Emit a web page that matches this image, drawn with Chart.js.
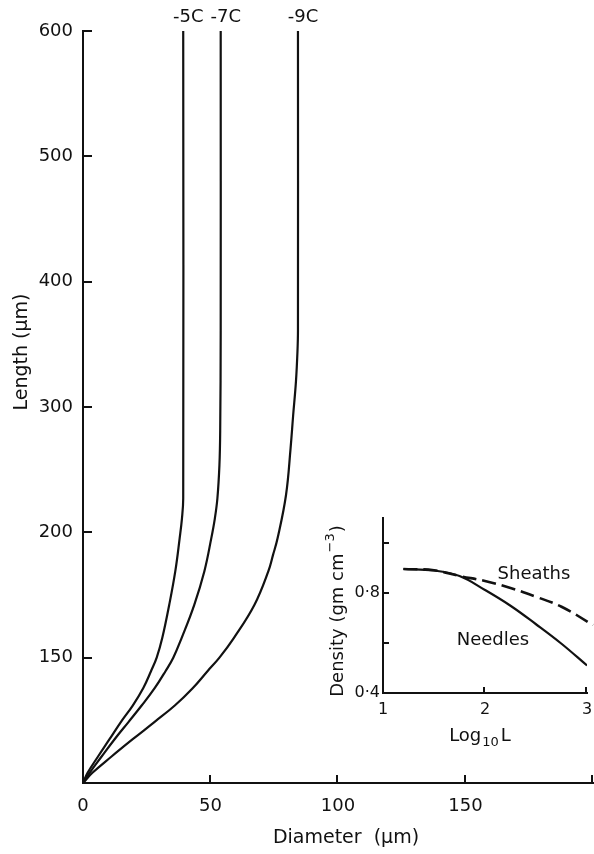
<!DOCTYPE html>
<html><head><meta charset="utf-8">
<script src="https://cdn.jsdelivr.net/npm/chart.js@4/dist/chart.umd.min.js"></script>
<style>
html,body{margin:0;padding:0;background:#fff;}
#wrap{position:relative;width:594px;height:854px;overflow:hidden;}
#main{position:absolute;left:0;top:0;}
#inset{position:absolute;left:320px;top:500px;}
</style></head><body>
<div id="wrap"><canvas id="main" width="594" height="854"></canvas><canvas id="inset" width="274" height="260"></canvas></div>
<script>
// ---- main chart data ----
const Y_TICKS = [0, 150, 200, 300, 400, 500, 600];
const Y_TICK_LABELS = ['', '150', '200', '300', '400', '500', '600'];
const X_TICKS = [0, 50, 100, 150, 200];
const X_TICK_LABELS = ['0', '50', '100', '150', ''];
const SERIES_NAMES = ['-5C', '-7C', '-9C'];

const LEN_5C  = [0, 12.2, 31.7, 52.4, 73.2, 92.7, 113.4, 134.1, 150, 157.9, 171.0, 184.5, 197.6, 211, 227, 600];
const DIAM_5C = [0, 1.8, 5.9, 10.4, 14.9, 19.5, 23.6, 26.7, 28.9, 31.1, 33.8, 36.2, 37.9, 38.8, 39.3, 39.3];

const LEN_7C  = [0, 12.2, 31.7, 52.4, 73.2, 92.7, 113.4, 134.1, 150, 157.9, 171.0, 184.5, 197.6, 211, 227, 253.6, 280.8, 360.8, 600];
const DIAM_7C = [0, 2.6, 7.3, 12.4, 17.9, 23.0, 28.1, 32.4, 35.4, 38.7, 43.6, 47.6, 50.3, 51.7, 52.7, 53.5, 53.8, 54.0, 54.0];

const LEN_9C  = [0, 12.2, 31.7, 52.4, 73.2, 92.7, 113.4, 134.1, 150, 157.9, 171.0, 184.5, 190.9, 197.6, 229.6, 267, 293, 320, 344, 361, 600];
const DIAM_9C = [0, 3.7, 11.2, 19.5, 28.1, 36.0, 43.0, 48.9, 53.5, 59.2, 67.2, 72.7, 74.5, 76.3, 79.6, 81.4, 82.4, 83.5, 84.1, 84.3, 84.3];

// ---- inset data ----
const INSET_X_TICKS = [1, 2, 3];
const INSET_X_LABELS = ['1', '2', '3'];
const INSET_Y_TICKS = [0.4, 0.6, 0.8, 1.0];
const INSET_Y_LABELS = ['0·4', '', '0·8', ''];
const NEEDLE_LOGL = [1.2, 1.5, 1.75, 2.0, 2.25, 2.5, 2.75, 3.0];
const NEEDLE_DENSITY = [0.896, 0.890, 0.868, 0.812, 0.749, 0.675, 0.597, 0.51];
const SHEATH_LOGL = [1.2, 1.5, 1.75, 2.0, 2.25, 2.5, 2.75, 3.06];
const SHEATH_DENSITY = [0.896, 0.891, 0.868, 0.848, 0.82, 0.785, 0.745, 0.672];

const INK = '#111';
const FONT = '"DejaVu Sans", sans-serif';

// Scale whose labelled ticks are evenly spaced (as printed on the original axis)
class SteppedScale extends Chart.LinearScale {
  buildTicks() { return Y_TICKS.map(v => ({ value: v })); }
  _dec(v) {
    const t = Y_TICKS, n = t.length - 1;
    if (v <= t[0]) return 0;
    for (let i = 0; i < n; i++) {
      if (v <= t[i + 1]) return (i + (v - t[i]) / (t[i + 1] - t[i])) / n;
    }
    return 1;
  }
  getPixelForValue(v) { return this.getPixelForDecimal(this._dec(v)); }
  getValueForPixel(p) {
    const n = Y_TICKS.length - 1;
    const d = this.getDecimalForPixel(p) * n;
    const i = Math.max(0, Math.min(Math.floor(d), n - 1));
    return Y_TICKS[i] + (d - i) * (Y_TICKS[i + 1] - Y_TICKS[i]);
  }
}
SteppedScale.id = 'stepped';
SteppedScale.defaults = {};
Chart.register(SteppedScale);

function pts(xs, ys) { return xs.map((x, i) => ({ x: x, y: ys[i] })); }
function noSidePad(s) { s.paddingLeft = 0; s.paddingRight = 0; }

const mainDecor = {
  id: 'mainDecor',
  afterDraw(chart) {
    const { ctx, chartArea: a } = chart;
    const x = chart.scales.x, y = chart.scales.y;
    ctx.save();
    ctx.strokeStyle = INK; ctx.lineWidth = 2;
    Y_TICKS.forEach(v => { if (v === 0) return; const py = Math.round(y.getPixelForValue(v)); ctx.beginPath(); ctx.moveTo(a.left, py); ctx.lineTo(a.left + 9, py); ctx.stroke(); });
    X_TICKS.forEach(v => { if (v === 0) return; const px = Math.round(x.getPixelForValue(v)) - 1; ctx.beginPath(); ctx.moveTo(px, a.bottom); ctx.lineTo(px, a.bottom - 8); ctx.stroke(); });
    ctx.fillStyle = INK;
    ctx.textAlign = 'center'; ctx.textBaseline = 'middle';
    ctx.font = '18px ' + FONT;
    chart.data.datasets.forEach((ds, i) => {
      const last = ds.data[ds.data.length - 1];
      ctx.fillText(SERIES_NAMES[i], x.getPixelForValue(last.x) + 5, 17);
    });
    ctx.font = '19px ' + FONT;
    ctx.fillText('Diameter  (\u00b5m)', 346, 838);
    ctx.save();
    ctx.translate(22, 352); ctx.rotate(-Math.PI / 2);
    ctx.fillText('Length (\u00b5m)', 0, 0);
    ctx.restore();
    ctx.restore();
  }
};

new Chart(document.getElementById('main'), {
  type: 'line',
  data: {
    datasets: [
      { data: pts(DIAM_5C, LEN_5C) },
      { data: pts(DIAM_7C, LEN_7C) },
      { data: pts(DIAM_9C, LEN_9C) }
    ]
  },
  options: {
    responsive: false, animation: false, devicePixelRatio: 1,
    layout: { padding: { top: 31, right: 1, left: 0, bottom: 0 } },
    elements: {
      line: { borderColor: INK, borderWidth: 2.2, tension: 0.4, capBezierPoints: false, fill: false },
      point: { radius: 0 }
    },
    plugins: { legend: { display: false }, tooltip: { enabled: false } },
    scales: {
      x: {
        type: 'linear', min: 0, max: 200,
        afterBuildTicks: s => { s.ticks = X_TICKS.map(v => ({ value: v })); },
        ticks: { callback: (v, i) => X_TICK_LABELS[i], color: INK, font: { family: FONT, size: 18 }, padding: 13, maxRotation: 0, autoSkip: false },
        grid: { display: false, drawTicks: false },
        border: { display: true, color: INK, width: 2 },
        afterFit: s => { s.height = 71; noSidePad(s); }
      },
      y: {
        type: 'stepped', min: 0, max: 600,
        ticks: { callback: (v, i) => Y_TICK_LABELS[i], color: INK, font: { family: FONT, size: 18 }, padding: 10, autoSkip: false },
        grid: { display: false, drawTicks: false },
        border: { display: true, color: INK, width: 2 },
        afterFit: s => { s.width = 83; }
      }
    }
  },
  plugins: [mainDecor]
});

const insetDecor = {
  id: 'insetDecor',
  afterDraw(chart) {
    const { ctx, chartArea: a } = chart;
    const x = chart.scales.x, y = chart.scales.y;
    ctx.save();
    ctx.strokeStyle = INK; ctx.lineWidth = 2;
    INSET_Y_TICKS.forEach(v => { if (v === INSET_Y_TICKS[0]) return; const py = Math.round(y.getPixelForValue(v)); ctx.beginPath(); ctx.moveTo(a.left, py); ctx.lineTo(a.left + 6, py); ctx.stroke(); });
    INSET_X_TICKS.forEach(v => { if (v === INSET_X_TICKS[0]) return; const px = Math.round(x.getPixelForValue(v)) - 1; ctx.beginPath(); ctx.moveTo(px, a.bottom); ctx.lineTo(px, a.bottom - 6); ctx.stroke(); });
    ctx.fillStyle = INK; ctx.textBaseline = 'middle'; ctx.textAlign = 'center';
    ctx.font = '18px ' + FONT;
    ctx.fillText('Sheaths', 214, 74);
    ctx.fillText('Needles', 173, 140);
    // x title: Log10 L
    ctx.textAlign = 'left';
    const big = '18px ' + FONT, small = '13px ' + FONT;
    ctx.font = big; const w1 = ctx.measureText('Log').width;
    ctx.font = small; const w2 = ctx.measureText('10').width;
    ctx.font = big; const w3 = ctx.measureText('L').width;
    let sx = 160 - (w1 + w2 + w3 + 3) / 2; const ty = 236;
    ctx.font = big; ctx.fillText('Log', sx, ty); sx += w1 + 1;
    ctx.font = small; ctx.fillText('10', sx, ty + 7); sx += w2 + 2;
    ctx.font = big; ctx.fillText('L', sx, ty);
    // y title: Density (gm cm^-3)
    ctx.save();
    ctx.translate(18, 112); ctx.rotate(-Math.PI / 2);
    ctx.font = big; const p1 = 'Density (gm cm'; const q1 = ctx.measureText(p1).width;
    ctx.font = small; const p2 = '\u22123'; const q2 = ctx.measureText(p2).width;
    ctx.font = big; const p3 = ')'; const q3 = ctx.measureText(p3).width;
    let rx = -(q1 + q2 + q3) / 2;
    ctx.font = big; ctx.fillText(p1, rx, 0); rx += q1;
    ctx.font = small; ctx.fillText(p2, rx + 1, -7); rx += q2 + 2;
    ctx.font = big; ctx.fillText(p3, rx, 0);
    ctx.restore();
    ctx.restore();
  }
};

new Chart(document.getElementById('inset'), {
  type: 'line',
  data: {
    datasets: [
      { data: pts(NEEDLE_LOGL, NEEDLE_DENSITY), borderDash: [] },
      { data: pts(SHEATH_LOGL, SHEATH_DENSITY), borderDash: [14, 6], borderWidth: 2.6, clip: false }
    ]
  },
  options: {
    responsive: false, animation: false, devicePixelRatio: 1,
    layout: { padding: { top: 18, right: 7, left: 0, bottom: 0 } },
    elements: {
      line: { borderColor: INK, borderWidth: 2.2, tension: 0.4, capBezierPoints: false, fill: false },
      point: { radius: 0 }
    },
    plugins: { legend: { display: false }, tooltip: { enabled: false } },
    scales: {
      x: {
        type: 'linear', min: 1, max: 3,
        afterBuildTicks: s => { s.ticks = INSET_X_TICKS.map(v => ({ value: v })); },
        ticks: { callback: (v, i) => INSET_X_LABELS[i], color: INK, font: { family: FONT, size: 16 }, padding: 7, maxRotation: 0, autoSkip: false },
        grid: { display: false, drawTicks: false },
        border: { display: true, color: INK, width: 2 },
        afterFit: s => { s.height = 67; noSidePad(s); }
      },
      y: {
        type: 'linear', min: 0.4, max: 1.1,
        afterBuildTicks: s => { s.ticks = INSET_Y_TICKS.map(v => ({ value: v })); },
        ticks: { callback: (v, i) => INSET_Y_LABELS[i], color: INK, font: { family: FONT, size: 16 }, padding: 3, autoSkip: false },
        grid: { display: false, drawTicks: false },
        border: { display: true, color: INK, width: 2 },
        afterFit: s => { s.width = 63; }
      }
    }
  },
  plugins: [insetDecor]
});
</script>
</body></html>
